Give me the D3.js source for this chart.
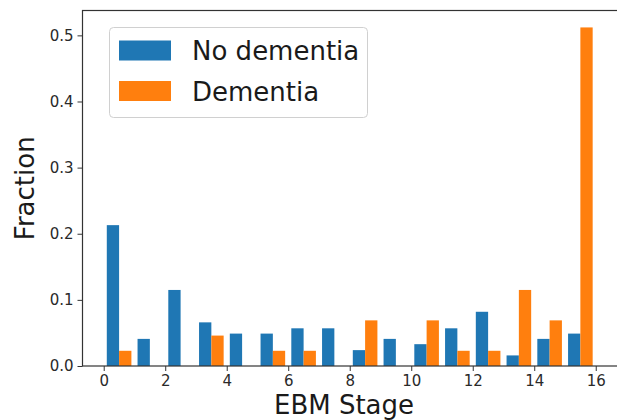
<!DOCTYPE html>
<html>
<head>
<meta charset="utf-8">
<script src="https://cdn.jsdelivr.net/npm/d3@7"></script>
<style>
  html, body { margin: 0; padding: 0; background: #fff; }
  svg { display: block; font-family: "DejaVu Sans", sans-serif; }
</style>
</head>
<body>
<svg id="chart" width="617" height="420"></svg>
<script>
// ---- data ----
const binEdges = [0,1,2,3,4,5,6,7,8,9,10,11,12,13,14,15,16];
const seriesNames = ["No dementia", "Dementia"];
const noDementia = [0.213, 0.041, 0.115, 0.066, 0.049, 0.049, 0.057, 0.057, 0.024, 0.041, 0.033, 0.057, 0.082, 0.016, 0.041, 0.049];
const dementia   = [0.023, 0.000, 0.000, 0.046, 0.000, 0.023, 0.023, 0.000, 0.069, 0.000, 0.069, 0.023, 0.023, 0.115, 0.069, 0.512];
const xTicks = [0, 2, 4, 6, 8, 10, 12, 14, 16];
const yTicks = [0.0, 0.1, 0.2, 0.3, 0.4, 0.5];
const colors = ["#1f77b4", "#ff7f0e"];

// ---- layout ----
const svg = d3.select("#chart");
const mLeft = 82.5, mRight = 618.5, mTop = 10.5, mBottom = 366;

const x = d3.scaleLinear().domain([-0.69, 16.74]).range([mLeft, mRight]);
const ymax = d3.max(dementia.concat(noDementia)) * 1.05;
const y = d3.scaleLinear().domain([0, ymax]).range([mBottom, mTop]);

const series = [noDementia, dementia];
const g = svg.append("g");
series.forEach((vals, si) => {
  g.selectAll(".bar" + si)
    .data(vals.map((v, i) => ({ v, i })))
    .enter().append("rect")
    .attr("class", "bar" + si)
    .attr("x", d => x(binEdges[d.i] + 0.1 + 0.4 * si))
    .attr("width", d => x(binEdges[d.i] + 0.5 + 0.4 * si) - x(binEdges[d.i] + 0.1 + 0.4 * si))
    .attr("y", d => y(d.v))
    .attr("height", d => y(0) - y(d.v))
    .attr("fill", colors[si]);
});

// axes
const xAxis = d3.axisBottom(x).tickValues(xTicks).tickFormat(d3.format("d")).tickSize(5).tickPadding(4);
const yAxis = d3.axisLeft(y).tickValues(yTicks).tickFormat(d3.format(".1f")).tickSize(5).tickPadding(4);

const gx = svg.append("g").attr("transform", `translate(0,${mBottom})`).call(xAxis);
const gy = svg.append("g").attr("transform", `translate(${mLeft},0)`).call(yAxis);
[gx, gy].forEach(a => {
  a.select(".domain").remove();
  a.selectAll("line").attr("stroke", "#333").attr("stroke-width", 1);
  a.selectAll("text").attr("fill", "#2a2a2a").style("font-size", "15px").style("font-family", "DejaVu Sans");
});

// spines
svg.append("rect")
  .attr("x", mLeft).attr("y", mTop)
  .attr("width", mRight - mLeft).attr("height", mBottom - mTop)
  .attr("fill", "none").attr("stroke", "#333").attr("stroke-width", 1.2);

// axis labels
svg.append("text")
  .attr("x", 344).attr("y", 414)
  .attr("text-anchor", "middle")
  .style("font-size", "26px").attr("fill", "#1a1a1a")
  .text("EBM Stage");
svg.append("text")
  .attr("transform", `translate(34,${(mTop + mBottom) / 2}) rotate(-90)`)
  .attr("text-anchor", "middle")
  .style("font-size", "26px").attr("fill", "#1a1a1a")
  .text("Fraction");

// legend
const lg = svg.append("g");
lg.append("rect")
  .attr("x", 109.5).attr("y", 27.5).attr("width", 258).attr("height", 90)
  .attr("rx", 4).attr("fill", "#fff").attr("fill-opacity", 0.85)
  .attr("stroke", "#d0d0d0").attr("stroke-width", 1);
seriesNames.forEach((name, i) => {
  lg.append("rect")
    .attr("x", 119).attr("y", 40.5 + i * 40.5).attr("width", 52).attr("height", 20)
    .attr("fill", colors[i]);
  lg.append("text")
    .attr("x", 192).attr("y", 60 + i * 40.5)
    .style("font-size", "26px").attr("fill", "#1a1a1a")
    .text(name);
});
</script>
</body>
</html>
